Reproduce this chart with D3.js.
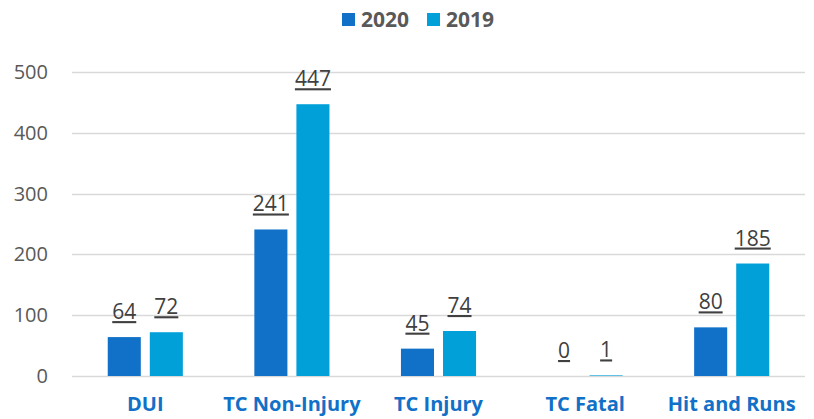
<!DOCTYPE html>
<html>
<head>
<meta charset="utf-8">
<script src="https://cdn.jsdelivr.net/npm/d3@7"></script>
<style>
  html, body { margin: 0; padding: 0; background: #fff; }
  svg { display: block; font-family: 'Open Sans', 'Liberation Sans', sans-serif; }
</style>
</head>
<body>
<svg id="chart" width="814" height="419"></svg>
<script>
// ── data ──
const categories = ['DUI', 'TC Non-Injury', 'TC Injury', 'TC Fatal', 'Hit and Runs'];
const seriesNames = ['2020', '2019'];
const values2020 = [64, 241, 45, 0, 80];
const values2019 = [72, 447, 74, 1, 185];
const yTicks = [0, 100, 200, 300, 400, 500];

const COLORS = { '2020': '#1170C7', '2019': '#02A0D9' };

function drawChart() {
  const margin = { top: 72, right: 9, bottom: 43, left: 72 };
  const w = 814, h = 419;
  const W = w - margin.left - margin.right;
  const H = h - margin.top - margin.bottom;

  const svg = d3.select('#chart');
  svg.selectAll('*').remove();
  const g = svg.append('g').attr('transform', `translate(${margin.left},${margin.top})`);

  const x0 = d3.scaleBand().domain(categories).range([0, W]).padding(0);
  const x1 = d3.scaleBand().domain(seriesNames).range([0, x0.bandwidth()])
    .paddingInner(0.214).paddingOuter(0.85);
  const y = d3.scaleLinear().domain([0, 500]).range([H, 0]);

  // gridlines
  g.append('g')
    .selectAll('line')
    .data(yTicks).enter().append('line')
      .attr('x1', 0).attr('x2', W)
      .attr('y1', d => Math.round(y(d)) + 0.5).attr('y2', d => Math.round(y(d)) + 0.5)
      .attr('stroke', '#d9d9d9').attr('stroke-width', 1.5);

  // y axis labels
  const yAxis = g.append('g')
    .call(d3.axisLeft(y).tickValues(yTicks).tickSize(0).tickPadding(24));
  yAxis.select('.domain').remove();
  yAxis.selectAll('text')
    .attr('fill', '#595959')
    .attr('font-size', 20)
    .attr('font-family', "'Open Sans', sans-serif");

  // x axis labels
  const xAxis = g.append('g')
    .attr('transform', `translate(0,${H})`)
    .call(d3.axisBottom(x0).tickSize(0).tickPadding(21));
  xAxis.select('.domain').remove();
  xAxis.selectAll('text')
    .attr('fill', '#1170C7')
    .attr('font-size', 20)
    .attr('font-weight', 700)
    .attr('font-family', "'Open Sans', sans-serif");

  const rows = categories.map((c, i) => ({ cat: c, vals: [
    { key: '2020', v: values2020[i] },
    { key: '2019', v: values2019[i] }
  ]}));

  const groups = g.selectAll('.grp')
    .data(rows).enter().append('g')
      .attr('class', 'grp')
      .attr('transform', d => `translate(${x0(d.cat)},0)`);

  groups.selectAll('rect')
    .data(d => d.vals).enter().append('rect')
      .attr('x', d => x1(d.key))
      .attr('width', x1.bandwidth())
      .attr('y', d => y(d.v))
      .attr('height', d => H - y(d.v))
      .attr('fill', d => COLORS[d.key]);

  groups.selectAll('.bar-label')
    .data(d => d.vals).enter().append('text')
      .attr('class', 'bar-label')
      .attr('x', d => x1(d.key) + x1.bandwidth() / 2)
      .attr('y', d => y(d.v) - 18)
      .attr('text-anchor', 'middle')
      .attr('fill', '#404040')
      .attr('font-size', 21)
      .style('text-decoration', 'underline')
      .text(d => d.v);

  // legend
  const legend = svg.append('g').attr('transform', 'translate(342,13)');
  const items = legend.selectAll('.lg')
    .data(seriesNames).enter().append('g')
      .attr('class', 'lg')
      .attr('transform', (d, i) => `translate(${i * 85},0)`);
  items.append('rect')
    .attr('width', 13).attr('height', 13)
    .attr('fill', d => COLORS[d]);
  items.append('text')
    .attr('x', 19).attr('y', 14)
    .attr('fill', '#595959')
    .attr('font-size', 21)
    .attr('font-weight', 700)
    .text(d => d);
}

drawChart();
</script>
</body>
</html>
